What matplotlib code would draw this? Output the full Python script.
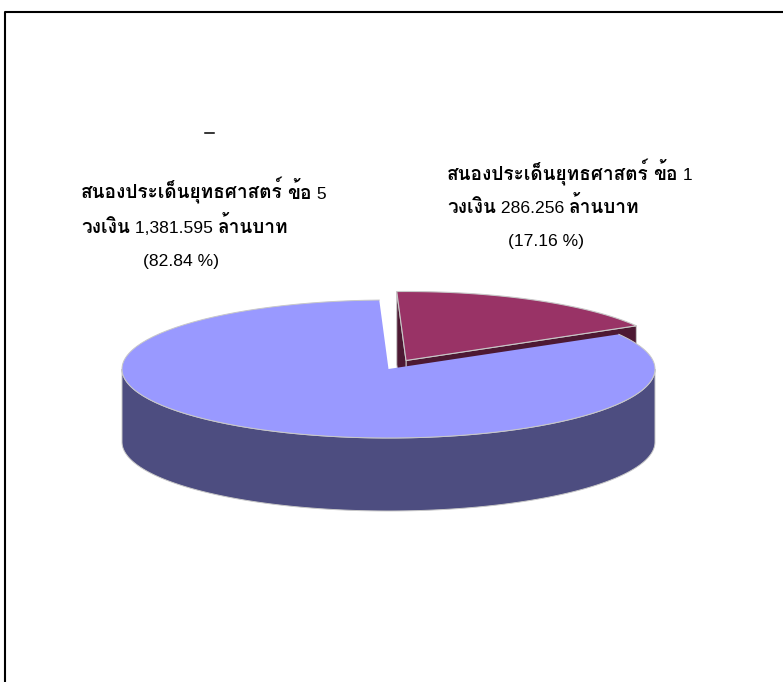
import re
import numpy as np
import matplotlib
matplotlib.use('Agg')
import matplotlib.pyplot as plt

# budget per strategic issue, million baht
slice_values = [286.256, 1381.595]
slice_percent = ['(17.16 %)', '(82.84 %)']
issue_lines = ['สนองประเด็นยุทธศาสตร์ ข้อ 1', 'สนองประเด็นยุทธศาสตร์ ข้อ 5']
budget_lines = ['วงเงิน 286.256 ล้านบาท', 'วงเงิน 1,381.595 ล้านบาท']

START_ANGLE = 30.2
CX, CY = 388.5, 369
RX, RY = 266.5, 69
DEPTH = 73
EDGE = '#c8c8c8'

fig = plt.figure(figsize=(7.83, 6.82), dpi=100)
ax = fig.add_axes([0, 0, 1, 1])
ax.set_xlim(0, 783)
ax.set_ylim(682, 0)
ax.axis('off')

# outer frame, runs off the right and bottom of the picture
ax.plot([5, 5, 783], [682, 12, 12], color='black', lw=1.5)


def rim(a0, a1, x0=CX, y0=CY):
    t = np.radians(np.linspace(a0, a1, 200))
    return x0 + RX * np.cos(t), y0 - RY * np.sin(t)


def mixed_text(x, y, s):
    # Thai runs heavier and larger than the latin digits, like the original
    renderer = fig.canvas.get_renderer()
    for run in re.findall(r'[\u0e00-\u0e7f]+|[^\u0e00-\u0e7f]+', s):
        if re.match(r'[\u0e00-\u0e7f]', run):
            t = ax.text(x, y, run, family='Loma', weight='bold', fontsize=13.7, va='baseline')
        else:
            t = ax.text(x, y, run, family='Liberation Sans', fontsize=12.6, va='baseline')
        x += t.get_window_extent(renderer).width


# angles come from the values
total = sum(slice_values)
span1 = 360 * slice_values[0] / total
a_start, a_mid = START_ANGLE, START_ANGLE + span1
a_end = START_ANGLE + 360

# maroon slice pulled out from the centre
mx, my = CX + 17.5, CY - 8.5
rx1, ry1 = rim(a_start, a_mid, mx, my)
ax.fill([rx1[0], mx, mx, rx1[0]], [ry1[0], my, my + DEPTH, ry1[0] + DEPTH],
        fc='#4d1933', ec=EDGE, lw=0.7)
ax.fill([rx1[-1], mx, mx, rx1[-1]], [ry1[-1], my, my + DEPTH, ry1[-1] + DEPTH],
        fc='#4d1933', ec=EDGE, lw=0.7)
ax.fill(np.r_[mx, rx1], np.r_[my, ry1], fc='#993366', ec=EDGE, lw=0.8)

# blue slice side wall then top
sx, sy = rim(180, 360)
ax.fill(np.r_[sx, sx[::-1]], np.r_[sy, sy[::-1] + DEPTH], fc='#4d4d80', ec=EDGE, lw=0.7)
bx, by = rim(a_mid, a_end)
ax.fill(np.r_[CX, bx], np.r_[CY, by], fc='#9999ff', ec='none')
ax.plot(bx, by, color=EDGE, lw=0.7)

# stray mark above the labels
ax.plot([205, 214], [132.5, 132.5], color='black', lw=1.1)

mixed_text(81, 199, issue_lines[1])
mixed_text(81, 233, budget_lines[1])
ax.text(181, 266, slice_percent[1], family='Liberation Sans', fontsize=12.6, ha='center', va='baseline')
mixed_text(447, 180, issue_lines[0])
mixed_text(447, 213, budget_lines[0])
ax.text(546, 246, slice_percent[0], family='Liberation Sans', fontsize=12.6, ha='center', va='baseline')

fig.savefig('out.png', dpi=100)
